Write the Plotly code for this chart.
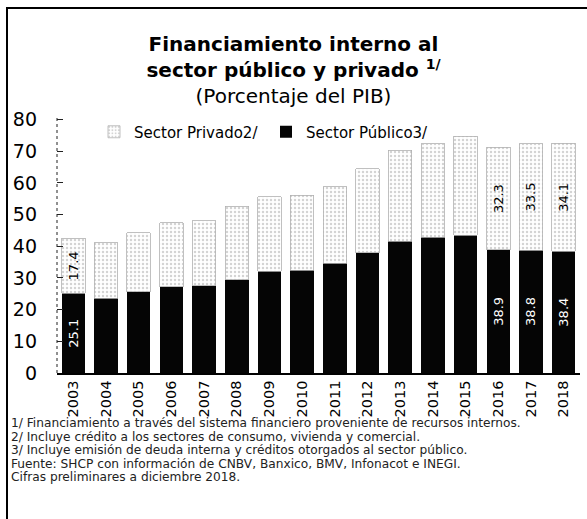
import plotly.graph_objects as go

years = ["2003", "2004", "2005", "2006", "2007", "2008", "2009", "2010",
         "2011", "2012", "2013", "2014", "2015", "2016", "2017", "2018"]
publico = [25.1, 23.6, 25.6, 27.3, 27.5, 29.4, 32.2, 32.5,
           34.6, 38.0, 41.6, 42.8, 43.5, 38.9, 38.8, 38.4]
privado = [17.4, 17.5, 18.7, 20.1, 20.6, 23.3, 23.4, 23.6,
           24.2, 26.5, 28.7, 29.6, 31.3, 32.3, 33.5, 34.1]
labeled_years = ["2003", "2016", "2017", "2018"]
footnotes = [
    "1/ Financiamiento a través del sistema financiero proveniente de recursos internos.",
    "2/ Incluye crédito a los sectores de consumo, vivienda y comercial.",
    "3/ Incluye emisión de deuda interna y créditos otorgados al sector público.",
    "Fuente: SHCP con información de CNBV, Banxico, BMV, Infonacot e INEGI.",
    "Cifras preliminares a diciembre 2018.",
]

FONT = "DejaVu Sans"
WIDTH, HEIGHT = 587, 519
L, R, T, B = 57, 7, 118, 146
PW, PH = WIDTH - L - R, HEIGHT - T - B


def px_x(p):
    return (p - L) / PW


def px_y(p):
    return (HEIGHT - B - p) / PH


pub_text = [f"{v:.1f}" if y in labeled_years else "" for y, v in zip(years, publico)]
priv_text = [f"{v:.1f}" if y in labeled_years else "" for y, v in zip(years, privado)]

fig = go.Figure()
fig.add_trace(go.Bar(
    x=years, y=publico, name="Sector Público3/",
    marker=dict(color="#050505", line=dict(width=0)),
    text=pub_text, textposition="inside", insidetextanchor="middle",
    textangle=-90, textfont=dict(color="white", size=13, family=FONT),
    legendrank=2, hoverinfo="skip",
))
fig.add_trace(go.Bar(
    x=years, y=privado, name="Sector Privado2/",
    marker=dict(color="#f4f4f4",
                pattern=dict(shape=".", fgcolor="#a8a8a8", bgcolor="#ffffff",
                             size=4, solidity=0.3),
                line=dict(color="#b0b0b0", width=0.8)),
    text=priv_text, textposition="inside", insidetextanchor="middle",
    textangle=-90, textfont=dict(color="black", size=13, family=FONT),
    legendrank=1, hoverinfo="skip",
))

annotations = []
for i, line in enumerate(footnotes):
    annotations.append(dict(
        text=line, xref="paper", yref="paper",
        x=px_x(9), y=px_y(423 + i * 13.6),
        xanchor="left", yanchor="middle", showarrow=False,
        font=dict(size=12.2, family=FONT, color="#222"),
    ))

shapes = [
    # dotted y axis line
    dict(type="line", xref="paper", yref="paper", x0=0, x1=0, y0=0, y1=1,
         line=dict(color="#222", width=1, dash="dot")),
    # frame: left and top borders
    dict(type="line", xref="paper", yref="paper", x0=px_x(7), x1=px_x(7),
         y0=px_y(8), y1=px_y(HEIGHT + 2), line=dict(color="black", width=2)),
    dict(type="line", xref="paper", yref="paper", x0=px_x(6), x1=px_x(WIDTH + 2),
         y0=px_y(8), y1=px_y(8), line=dict(color="black", width=2)),
]

fig.update_layout(
    width=WIDTH, height=HEIGHT,
    margin=dict(l=L, r=R, t=T, b=B),
    paper_bgcolor="white", plot_bgcolor="white",
    barmode="stack", bargap=0.28,
    font=dict(family=FONT, color="black"),
    title=dict(
        text="<b>Financiamiento interno al<br>sector público y privado <sup>1/</sup></b>"
             "<br>(Porcentaje del PIB)",
        x=0.5, xanchor="center", y=1 - 51 / HEIGHT, yanchor="top",
        font=dict(size=20, family=FONT, color="black"),
    ),
    showlegend=True,
    legend=dict(orientation="h", x=px_x(94), y=px_y(132), xanchor="left",
                yanchor="middle", bgcolor="rgba(0,0,0,0)",
                font=dict(size=15, family=FONT), itemwidth=30,
                entrywidth=127, traceorder="normal"),
    xaxis=dict(type="category", tickangle=-90, showline=True, linecolor="black",
               linewidth=1.5, ticks="", tickfont=dict(size=14.5, family=FONT),
               showgrid=False, automargin=False),
    yaxis=dict(range=[0, 80.5], tickvals=[0, 10, 20, 30, 40, 50, 60, 70, 80],
               ticks="inside", ticklen=6, tickcolor="#222", showline=False,
               showgrid=False, zeroline=False, ticklabelstandoff=19,
               tickfont=dict(size=19, family=FONT), automargin=False),
    annotations=annotations,
    shapes=shapes,
)

fig.write_html("out.html", config={"displayModeBar": False},
               post_script="document.body.style.margin='0';document.body.style.padding='0';")
